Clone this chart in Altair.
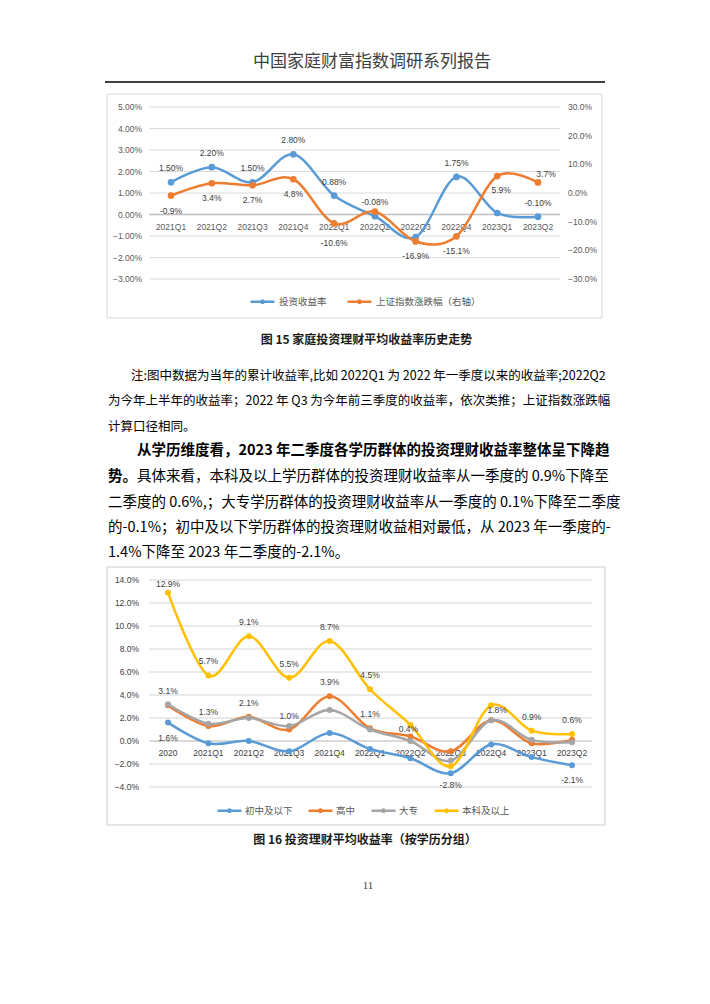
import json
import altair as alt
import pandas as pd

FONT_CJK = "Noto Sans CJK SC"
FONT_NUM = "Liberation Sans"

# ---------------- page text ----------------
header_text = "中国家庭财富指数调研系列报告"
caption1 = "图 15 家庭投资理财平均收益率历史走势"
note_lines = [
    "注:图中数据为当年的累计收益率,比如 2022Q1 为 2022 年一季度以来的收益率;2022Q2",
    "为今年上半年的收益率；2022 年 Q3 为今年前三季度的收益率，依次类推；上证指数涨跌幅",
    "计算口径相同。",
]
para_bold_1 = "从学历维度看，2023 年二季度各学历群体的投资理财收益率整体呈下降趋"
para_bold_2 = "势。"
para_rest_2 = "具体来看，本科及以上学历群体的投资理财收益率从一季度的 0.9%下降至"
para_lines = [
    "二季度的 0.6%,；大专学历群体的投资理财收益率从一季度的 0.1%下降至二季度",
    "的-0.1%；初中及以下学历群体的投资理财收益相对最低，从 2023 年一季度的-",
    "1.4%下降至 2023 年二季度的-2.1%。",
]
caption2 = "图 16 投资理财平均收益率（按学历分组）"
page_number = "11"

# ---------------- chart 1 data ----------------
quarters1 = ["2021Q1", "2021Q2", "2021Q3", "2021Q4", "2022Q1",
             "2022Q2", "2022Q3", "2022Q4", "2023Q1", "2023Q2"]
series1 = ["投资收益率", "上证指数涨跌幅（右轴）"]
invest_return = [1.50, 2.20, 1.50, 2.80, 0.88, -0.08, -1.05, 1.75, 0.07, -0.10]
invest_labels = ["1.50%", "2.20%", "1.50%", "2.80%", "0.88%", "-0.08%", "", "1.75%", "", "-0.10%"]
sse_change = [-0.9, 3.4, 2.7, 4.8, -10.6, -6.5, -16.9, -15.1, 5.9, 3.7]
sse_labels = ["-0.9%", "3.4%", "2.7%", "4.8%", "-10.6%", "", "-16.9%", "-15.1%", "5.9%", "3.7%"]
left_ticks1 = [-3, -2, -1, 0, 1, 2, 3, 4, 5]
right_ticks1 = [-30, -20, -10, 0, 10, 20, 30]

# ---------------- chart 2 data ----------------
periods2 = ["2020", "2021Q1", "2021Q2", "2021Q3", "2021Q4", "2022Q1",
            "2022Q2", "2022Q3", "2022Q4", "2023Q1", "2023Q2"]
series2 = ["初中及以下", "高中", "大专", "本科及以上"]
junior = [1.6, -0.2, 0.0, -0.9, 0.7, -0.7, -1.5, -2.8, -0.3, -1.4, -2.1]
junior_labels = ["1.6%", "", "", "", "", "", "", "-2.8%", "", "", "-2.1%"]
high = [3.1, 1.3, 2.1, 1.0, 3.9, 1.1, 0.4, -0.9, 1.8, -0.2, 0.1]
high_labels = ["3.1%", "1.3%", "2.1%", "1.0%", "3.9%", "1.1%", "0.4%", "", "1.8%", "", ""]
college = [3.2, 1.5, 2.0, 1.3, 2.7, 1.0, 0.0, -1.7, 1.8, 0.1, -0.1]
college_labels = [""] * 11
bachelor = [12.9, 5.7, 9.1, 5.5, 8.7, 4.5, 1.4, -2.2, 3.1, 0.9, 0.6]
bachelor_labels = ["12.9%", "5.7%", "9.1%", "5.5%", "8.7%", "4.5%", "", "", "", "0.9%", "0.6%"]
ticks2 = [-4, -2, 0, 2, 4, 6, 8, 10, 12, 14]

BLUE, ORANGE, GRAY, YELLOW = "#5B9BD5", "#ED7D31", "#A5A5A5", "#FFC000"
SYM = "M-1,0L1,0M-0.1,0A0.1,0.1,0,1,1,0.1,0A0.1,0.1,0,1,1,-0.1,0Z"
one = pd.DataFrame({"z": [0]})


def txt(s, x, y, size, weight="normal", align="left", color="#000000", font=FONT_CJK):
    return alt.Chart(pd.DataFrame({"t": [s]})).mark_text(
        align=align, baseline="middle", font=font, fontSize=size,
        fontWeight=weight, color=color
    ).encode(x=alt.value(x), y=alt.value(y), text="t:N")


def frame(xa, xb, ya, yb, color, width):
    return alt.Chart(one).mark_rect(fillOpacity=0, stroke=color, strokeWidth=width).encode(
        x=alt.value(xa), x2=alt.value(xb), y=alt.value(ya), y2=alt.value(yb))


def sel(series, only=None, exclude=None):
    expr = "datum.series === " + json.dumps(series) + " && datum.label !== ''"
    if only:
        expr += " && indexof(" + json.dumps(only) + ", datum.period) >= 0"
    if exclude:
        expr += " && indexof(" + json.dumps(exclude) + ", datum.period) < 0"
    return expr


def labels(df, xenc, yenc, expr, dx=0, dy=0, size=8.5):
    return alt.Chart(df).transform_filter(expr).mark_text(
        dx=dx, dy=dy, fontSize=size, font=FONT_NUM, color="#404040", baseline="middle"
    ).encode(x=xenc, y=yenc, text="label:N")


def series_filter(name):
    return "datum.series === " + json.dumps(name)


def grid(ticks, scale, color, width):
    return alt.Chart(pd.DataFrame({"v": ticks})).mark_rule(color=color, strokeWidth=width).encode(
        y=alt.Y("v:Q", scale=scale, axis=None))


def tick_labels(ticks, scale, fmt, x, align, color):
    return alt.Chart(pd.DataFrame({"v": ticks})).transform_calculate(
        lbl="format(datum.v, '" + fmt + "') + '%'"
    ).mark_text(align=align, baseline="middle", font=FONT_NUM, fontSize=8.5, color=color).encode(
        x=alt.value(x), y=alt.Y("v:Q", scale=scale, axis=None), text="lbl:N")


# ================= chart 1 =================
W1, H1 = 411, 172
df1 = pd.DataFrame({
    "period": quarters1 * 2,
    "series": [series1[0]] * len(quarters1) + [series1[1]] * len(quarters1),
    "value": invest_return + sse_change,
    "label": invest_labels + sse_labels,
})
x1 = alt.X("period:N", scale=alt.Scale(type="point", domain=quarters1, range=[22, 389], padding=0),
           axis=None)
yL_scale = alt.Scale(domain=[-3, 5], nice=False, zero=False)
yR_scale = alt.Scale(domain=[-30, 30], nice=False, zero=False)
yL = alt.Y("value:Q", scale=yL_scale, axis=None)
yR = alt.Y("value:Q", scale=yR_scale, axis=None)
leg1 = alt.Legend(title=None, orient="none", direction="horizontal", legendX=100, legendY=181,
                  symbolType=SYM, symbolSize=576, symbolStrokeWidth=2.5, labelFont=FONT_CJK,
                  labelFontSize=9.5, labelColor="#595959", labelOffset=3, columnPadding=15, padding=0)
cscale1 = alt.Scale(domain=series1, range=[BLUE, ORANGE])
color1 = alt.Color("series:N", scale=cscale1, legend=leg1)
color1n = alt.Color("series:N", scale=cscale1, legend=None)

left_group = alt.layer(
    frame(-42, 453, -13, 211, "#D9D9D9", 1),
    grid(left_ticks1, yL_scale, "#DCDCDC", 1),
    tick_labels(left_ticks1, yL_scale, ".2f", -7, "right", "#595959"),
    alt.Chart(one).mark_rule(color="#BFBFBF", strokeWidth=1.5).encode(
        y=alt.Y("z:Q", scale=yL_scale, axis=None)),
    alt.Chart(pd.DataFrame({"period": quarters1, "z": [0] * len(quarters1)})).mark_text(
        dy=12, fontSize=8.5, font=FONT_NUM, color="#595959", baseline="middle"
    ).encode(x=x1, y=alt.Y("z:Q", scale=yL_scale, axis=None), text="period:N"),
    alt.Chart(df1).transform_filter(series_filter(series1[0])).mark_line(
        interpolate="cardinal", tension=0, strokeWidth=2.5
    ).encode(x=x1, y=yL, color=color1),
    alt.Chart(df1).transform_filter(series_filter(series1[0])).mark_circle(size=45, opacity=1).encode(
        x=x1, y=yL, color=color1n),
    labels(df1, x1, yL, sel(series1[0]), dy=-14),
)
right_group = alt.layer(
    tick_labels(right_ticks1, yR_scale, ".1f", W1 + 8, "left", "#595959"),
    alt.Chart(df1).transform_filter(series_filter(series1[1])).mark_line(
        interpolate="cardinal", tension=0, strokeWidth=2.5
    ).encode(x=x1, y=yR, color=color1),
    alt.Chart(df1).transform_filter(series_filter(series1[1])).mark_circle(size=45, opacity=1).encode(
        x=x1, y=yR, color=color1n),
    labels(df1, x1, yR, sel(series1[1], exclude=["2022Q1", "2023Q1", "2023Q2"]), dy=15),
    labels(df1, x1, yR, sel(series1[1], only=["2022Q1"]), dy=20),
    labels(df1, x1, yR, sel(series1[1], only=["2023Q1"]), dx=4, dy=14),
    labels(df1, x1, yR, sel(series1[1], only=["2023Q2"]), dx=8, dy=-8),
)
chart1 = alt.layer(left_group, right_group).resolve_scale(y="independent").properties(width=W1, height=H1)

# ================= chart 2 =================
W2, H2 = 443, 207
vals2 = [junior, high, college, bachelor]
labs2 = [junior_labels, high_labels, college_labels, bachelor_labels]
df2 = pd.DataFrame({
    "period": periods2 * 4,
    "series": sum([[s] * len(periods2) for s in series2], []),
    "value": sum(vals2, []),
    "label": sum(labs2, []),
})
x2 = alt.X("period:N", scale=alt.Scale(type="point", domain=periods2, range=[19, 423], padding=0),
           axis=None)
y2_scale = alt.Scale(domain=[-4, 14], nice=False, zero=False)
y2 = alt.Y("value:Q", scale=y2_scale, axis=None)
leg2 = alt.Legend(title=None, orient="none", direction="horizontal", legendX=67, legendY=217,
                  symbolType=SYM, symbolSize=576, symbolStrokeWidth=2.5, labelFont=FONT_CJK,
                  labelFontSize=9.5, labelColor="#595959", labelOffset=2, columnPadding=10, padding=0)
cscale2 = alt.Scale(domain=series2, range=[BLUE, ORANGE, GRAY, YELLOW])
color2 = alt.Color("series:N", scale=cscale2, legend=leg2)
color2n = alt.Color("series:N", scale=cscale2, legend=None)

layers2 = [
    frame(-42, 456, -13, 245, "#DEDEDE", 1.5),
    grid(ticks2, y2_scale, "#E3E3E3", 1.5),
    tick_labels(ticks2, y2_scale, ".1f", -10, "right", "#404040"),
    alt.Chart(one).mark_rule(color="#C8C8C8", strokeWidth=1.2).encode(
        y=alt.Y("z:Q", scale=y2_scale, axis=None)),
    alt.Chart(pd.DataFrame({"period": periods2, "z": [0] * len(periods2)})).mark_text(
        dy=12, fontSize=8.5, font=FONT_NUM, color="#404040", baseline="middle"
    ).encode(x=x2, y=alt.Y("z:Q", scale=y2_scale, axis=None), text="period:N"),
]
for s in series2:
    layers2.append(alt.Chart(df2).transform_filter(series_filter(s)).mark_line(
        interpolate="cardinal", tension=0, strokeWidth=2.5).encode(x=x2, y=y2, color=color2))
    layers2.append(alt.Chart(df2).transform_filter(series_filter(s)).mark_circle(
        size=36, opacity=1).encode(x=x2, y=y2, color=color2n))
layers2 += [
    labels(df2, x2, y2, sel(series2[0], exclude=["2022Q3"]), dy=15),
    labels(df2, x2, y2, sel(series2[0], only=["2022Q3"]), dy=12),
    labels(df2, x2, y2, sel(series2[1], exclude=["2022Q2", "2022Q4"]), dy=-14),
    labels(df2, x2, y2, sel(series2[1], only=["2022Q2"]), dx=-2, dy=-7),
    labels(df2, x2, y2, sel(series2[1], only=["2022Q4"]), dx=6, dy=-10),
    labels(df2, x2, y2, sel(series2[3], exclude=["2020"]), dy=-14),
    labels(df2, x2, y2, sel(series2[3], only=["2020"]), dy=-9),
]
chart2 = alt.layer(*layers2).properties(width=W2, height=H2)

# ================= text panels =================
p0 = alt.layer(
    alt.Chart(one).mark_rect(opacity=0).encode(
        x=alt.value(-141), x2=alt.value(-140), y=alt.value(0), y2=alt.value(1)),
    txt(header_text, 223, 54, 17, color="#404040", align="center"),
    alt.Chart(one).mark_rule(color="#000000", strokeWidth=1.5).encode(
        x=alt.value(-44), x2=alt.value(456), y=alt.value(74)),
).properties(width=W1, height=99)

PS = 14.5
p2_layers = [txt(caption1, 217.5, 61, 12, weight="bold", align="center", color="#1A1A1A")]
p2_layers.append(txt(note_lines[0], -18, 97, 12.5))
p2_layers.append(txt(note_lines[1], -41, 122, 12.5))
p2_layers.append(txt(note_lines[2], -41, 148, 12.5))
p2_layers.append(txt(para_bold_1, -12, 172, PS, weight="bold"))
p2_layers.append(txt(para_bold_2, -41, 198, PS, weight="bold"))
p2_layers.append(txt(para_rest_2, -12, 198, PS))
for i, line in enumerate(para_lines):
    p2_layers.append(txt(line, -41, 224 + 25 * i, PS))
p2 = alt.layer(*p2_layers).properties(width=W1, height=301)

p4 = alt.layer(
    txt(caption2, 216, 53, 12, weight="bold", align="center", color="#1A1A1A"),
    txt(page_number, 219, 99, 11, align="center", color="#404040", font="Liberation Serif"),
).properties(width=W1, height=110)

chart = alt.vconcat(p0, chart1, p2, chart2, p4, spacing=0, bounds="flush").resolve_scale(
    color="independent"
).properties(
    padding=0, background="white"
).configure_view(strokeWidth=0)

chart.save("out.html", embed_options={"renderer": "svg", "actions": False})
